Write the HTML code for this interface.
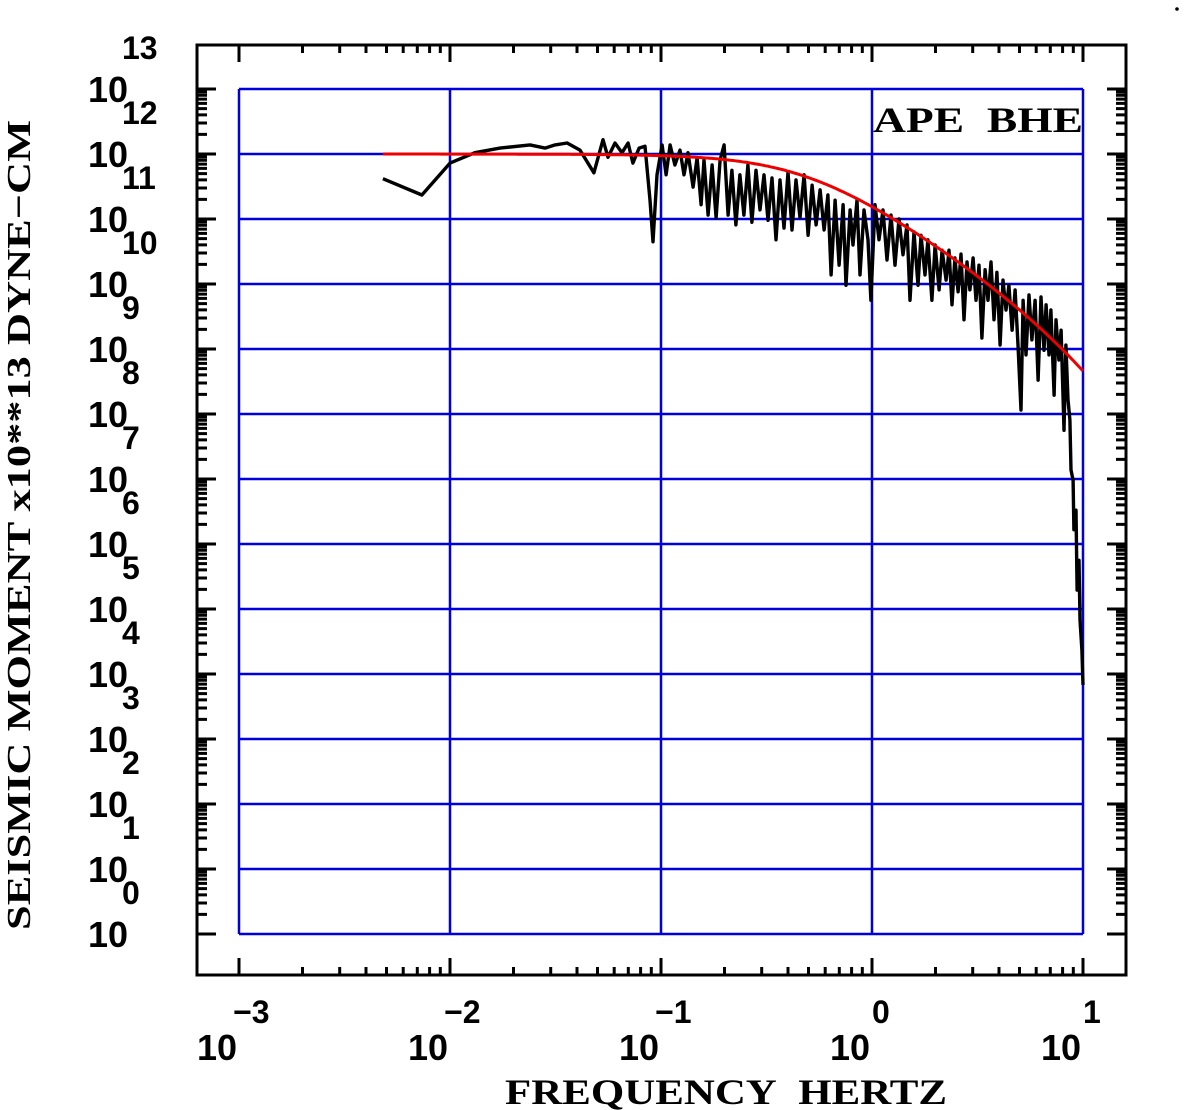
<!DOCTYPE html>
<html><head><meta charset="utf-8"><style>
html,body{margin:0;padding:0;background:#fff;}
svg{display:block;}
text{white-space:pre;}
</style></head><body>
<svg id="chart" width="1184" height="1110" viewBox="0 0 1184 1110" xmlns="http://www.w3.org/2000/svg">
<circle cx="1177" cy="9" r="1.8" fill="#000"/>
<g id="grid"></g>
<g id="frame"></g>
<g id="ticks"></g>
<g id="series"></g>
<g id="labels"></g>
<text x="505" y="1104" font-family="Liberation Serif, serif" font-weight="bold" font-size="36" textLength="442" lengthAdjust="spacingAndGlyphs">FREQUENCY&#160;&#160;HERTZ</text>
<text transform="translate(30,930) rotate(-90)" x="0" y="0" font-family="Liberation Serif, serif" font-weight="bold" font-size="34" textLength="810" lengthAdjust="spacingAndGlyphs">SEISMIC MOMENT x10**13 DYNE−CM</text>
<text x="873" y="132" font-family="Liberation Serif, serif" font-weight="bold" font-size="36" textLength="210" lengthAdjust="spacingAndGlyphs">APE&#160;&#160;BHE</text>
</svg>
<script>
// axis data
const xDecades = [-3, -2, -1, 0, 1];
const xTickExps = ["−3", "−2", "−1", "0", "1"];
const yDecades = [0,1,2,3,4,5,6,7,8,9,10,11,12,13];
const yExpLabels = ["12","11","10","9","8","7","6","5","4","3","2","1","0"];
// observed spectrum: log10 frequency and log10 amplitude (axis exponent units)
const specLogF = [-2.318,-2.133,-2.0,-1.882,-1.763,-1.621,-1.55,-1.502,-1.445,-1.384,-1.318,-1.275,-1.251,-1.218,-1.185,-1.156,-1.133,-1.104,-1.076,-1.052,-1.038,-1.019,-0.995,-0.976,-0.957,-0.934,-0.91,-0.891,-0.872,-0.848,-0.829,-0.81,-0.796,-0.777,-0.758,-0.739,-0.72,-0.701,-0.682,-0.664,-0.645,-0.626,-0.607,-0.588,-0.569,-0.55,-0.531,-0.512,-0.493,-0.474,-0.455,-0.436,-0.417,-0.398,-0.379,-0.36,-0.341,-0.322,-0.303,-0.284,-0.265,-0.246,-0.227,-0.209,-0.194,-0.175,-0.156,-0.137,-0.123,-0.104,-0.09,-0.071,-0.057,-0.038,-0.019,-0.005,0.014,0.033,0.052,0.071,0.09,0.109,0.128,0.147,0.166,0.18,0.199,0.218,0.232,0.251,0.265,0.284,0.299,0.318,0.332,0.351,0.365,0.379,0.393,0.408,0.422,0.436,0.45,0.464,0.479,0.493,0.507,0.521,0.536,0.55,0.564,0.578,0.592,0.607,0.621,0.635,0.649,0.664,0.678,0.692,0.706,0.716,0.73,0.744,0.758,0.773,0.787,0.801,0.815,0.825,0.839,0.848,0.863,0.872,0.886,0.896,0.91,0.919,0.929,0.938,0.943,0.953,0.957,0.967,0.972,0.981,0.986,0.995,1.0];
const specAmp = [11.62,11.37,11.86,12.02,12.09,12.14,12.09,12.14,12.17,12.06,11.71,12.22,11.95,12.17,12.02,12.17,11.86,12.09,12.12,11.29,10.65,11.68,12.14,11.68,12.14,11.83,12.06,11.68,12.02,11.49,11.94,11.22,11.91,11.06,11.83,11.02,11.91,12.14,11.06,11.75,10.91,11.68,11.06,11.83,10.95,11.75,11.14,11.68,10.98,11.63,10.68,11.6,10.86,11.72,10.83,11.6,11.02,11.68,10.75,11.52,10.91,11.45,10.83,11.37,10.14,11.29,10.29,11.22,9.98,11.14,10.6,11.29,10.14,11.14,10.68,9.75,11.22,10.68,11.14,10.37,11.06,10.29,11.0,10.45,10.91,9.75,10.8,9.98,10.75,10.14,10.68,9.75,10.6,9.91,10.52,10.06,10.52,9.68,10.4,9.88,10.46,9.45,10.34,9.91,10.4,9.75,10.29,9.17,10.22,9.75,10.34,9.45,10.18,9.06,10.06,9.6,9.98,9.29,9.91,9.06,8.06,9.75,8.91,9.83,9.14,9.75,8.52,9.8,8.98,9.68,8.91,9.6,8.29,9.45,8.83,9.29,7.75,9.06,8.22,7.91,7.14,6.98,6.22,6.52,5.29,5.75,4.83,4.37,3.83];
// source model parameters
const modelLevel = [12.0];
const modelCorner = [0.47];
const modelTstar = [0.05];
const modelRange = [-2.318, 1.0];

const NS = "http://www.w3.org/2000/svg";
const X0 = 239, DX = 211, Y0 = 934, DY = 65;
function xs(lf){ return X0 + (lf + 3) * DX; }
function ys(e){ return Y0 - e * DY; }
function mk(tag, attrs, parent){
  const el = document.createElementNS(NS, tag);
  for (const k in attrs) el.setAttribute(k, attrs[k]);
  parent.appendChild(el); return el;
}
const grid = document.getElementById('grid');
const frame = document.getElementById('frame');
const ticks = document.getElementById('ticks');
const series = document.getElementById('series');
const labels = document.getElementById('labels');

yDecades.forEach(function(d){
  const l = mk('line', {x1: xs(-3), x2: xs(1), y1: ys(d), y2: ys(d), stroke: '#0000dd', 'stroke-width': 2.5}, grid);
  
  
});
xDecades.forEach(function(d){
  const l = mk('line', {x1: xs(d), x2: xs(d), y1: ys(13), y2: ys(0), stroke: '#0000dd', 'stroke-width': 2.5}, grid);
  
  
});
const fr = mk('rect', {x: 197, y: 45, width: 929, height: 930, fill: 'none', stroke: '#000', 'stroke-width': 3}, frame);



const tp = [];
yDecades.forEach(function(d){
  const y = ys(d);
  tp.push('M197 ' + y + 'H216', 'M1126 ' + y + 'H1107');
  if (d < 13) for (let m = 2; m <= 9; m++){
    const yy = ys(d + Math.log10(m));
    tp.push('M197 ' + yy.toFixed(1) + 'H207', 'M1126 ' + yy.toFixed(1) + 'H1116');
  }
});
for (let d = -3; d <= 1; d++){
  const x = xs(d);
  tp.push('M' + x + ' 975V958', 'M' + x + ' 45V62');
  if (d < 1) for (let m = 2; m <= 9; m++){
    const xx = xs(d + Math.log10(m));
    tp.push('M' + xx.toFixed(1) + ' 975V967', 'M' + xx.toFixed(1) + ' 45V53');
  }
}
const tk = mk('path', {d: tp.join(''), stroke: '#000', 'stroke-width': 3, fill: 'none'}, ticks);



const mp = [];
for (let i = 0; i <= 300; i++){
  const lf = modelRange[0] + (modelRange[1] - modelRange[0]) * i / 300;
  const f = Math.pow(10, lf);
  const e = modelLevel[0] - Math.log10(1 + Math.pow(f / modelCorner[0], 2)) - Math.PI * f * modelTstar[0] * Math.LOG10E;
  mp.push((i ? 'L' : 'M') + xs(lf).toFixed(1) + ' ' + ys(e).toFixed(1));
}
const sp = specLogF.map(function(lf, i){ return (i ? 'L' : 'M') + xs(lf).toFixed(1) + ' ' + ys(specAmp[i]).toFixed(1); });
const obs = mk('path', {d: sp.join(''), stroke: '#000', 'stroke-width': 3.4, fill: 'none', 'stroke-linejoin': 'round'}, series);


const mod = mk('path', {d: mp.join(''), stroke: '#ee0000', 'stroke-width': 3, fill: 'none'}, series);



const font = 'Liberation Sans, sans-serif';
yDecades.forEach(function(d){
  const t = mk('text', {x: 128, y: ys(d) + 13, 'text-anchor': 'end', 'font-family': font, 'font-weight': 'bold', 'font-size': 36}, labels);
  t.textContent = '10';
  
  
});
const t13 = mk('text', {x: 122, y: 59, 'font-family': font, 'font-weight': 'bold', 'font-size': 32}, labels);
t13.textContent = '13';


yExpLabels.forEach(function(s, i){
  const t = mk('text', {x: 122, y: ys(13 - i) + 35, 'font-family': font, 'font-weight': 'bold', 'font-size': 32}, labels);
  t.textContent = s;
  
  
});
xDecades.forEach(function(d, i){
  const x = xs(d);
  const b = mk('text', {x: x - 2, y: 1060, 'text-anchor': 'end', 'font-family': font, 'font-weight': 'bold', 'font-size': 36}, labels);
  b.textContent = '10';
  
  
  const e = mk('text', {x: x + (xTickExps[i].length > 1 ? -6 : 0), y: 1023, 'font-family': font, 'font-weight': 'bold', 'font-size': 32}, labels);
  e.textContent = xTickExps[i];
  
  
});
</script>
</body></html>
